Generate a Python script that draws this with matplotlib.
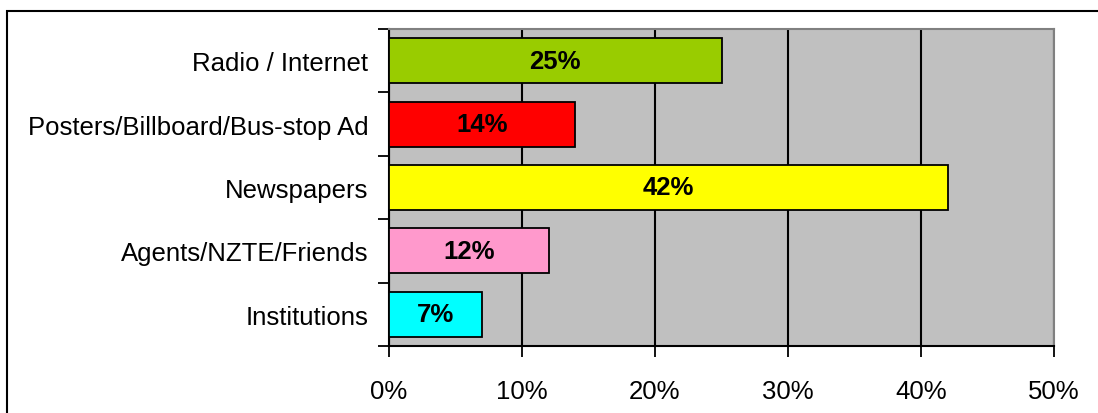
import matplotlib.pyplot as plt
from matplotlib.patches import Rectangle
import numpy as np

# survey results: where respondents heard about the school
sources = ['Radio / Internet', 'Posters/Billboard/Bus-stop Ad', 'Newspapers',
           'Agents/NZTE/Friends', 'Institutions']
shares = [25, 14, 42, 12, 7]
colours = ['#99CC00', '#FF0000', '#FFFF00', '#FF99CC', '#00FFFF']
xticks = [0, 10, 20, 30, 40, 50]

plt.rcParams['font.family'] = ['Liberation Sans', 'DejaVu Sans']

W, H = 1098, 414
fig = plt.figure(figsize=(W / 100, H / 100), dpi=100)
ax = fig.add_axes([389 / W, 1 - 347 / H, (1054 - 389) / W, (347 - 30) / H])
ax.set_facecolor('#C0C0C0')

y = np.arange(len(sources))[::-1]
ax.barh(y, shares, height=0.71, color=colours, edgecolor='black', linewidth=1.3, zorder=3)
for yi, v in zip(y, shares):
    ax.text(v / 2, yi, f'{v}%', ha='center', va='center', fontsize=18.5,
            fontweight='bold', zorder=4)

ax.set_xlim(0, 50)
ax.set_ylim(-0.5, len(sources) - 0.5)
ax.set_xticks(xticks)
ax.set_xticklabels([f'{t}%' for t in xticks], fontsize=18.5)
ax.xaxis.grid(True, color='black', linewidth=1.5, zorder=1)

# category labels sit between boundary ticks
ax.set_yticks(y)
ax.set_yticklabels(sources, fontsize=18.5)
ax.set_yticks(np.arange(-0.5, len(sources)), minor=True)
ax.tick_params(axis='y', which='major', length=0, pad=15)
ax.tick_params(axis='y', which='minor', length=8, width=1.3, direction='out')
ax.tick_params(axis='x', length=8, width=1.3, direction='out', pad=16)

for side in ['left', 'bottom']:
    ax.spines[side].set_color('black')
    ax.spines[side].set_linewidth(1.5)
for side in ['top', 'right']:
    ax.spines[side].set_color('#808080')
    ax.spines[side].set_linewidth(1.5)

# chart border
fig.patches.append(Rectangle((7 / W, -0.1), 1.2, 1.1 - 12 / H, transform=fig.transFigure,
                             fill=False, edgecolor='black', linewidth=1.5))

fig.savefig('out.png', dpi=100)
